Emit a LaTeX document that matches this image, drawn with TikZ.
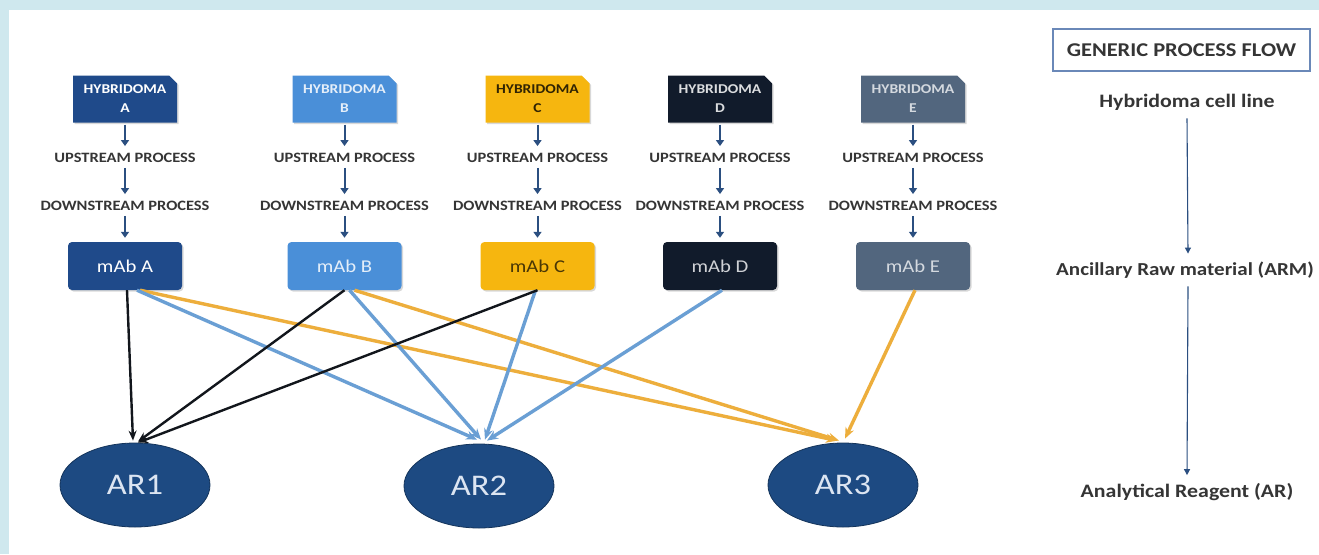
\documentclass[tikz,border=0pt]{standalone}
\usepackage{fontspec}
\setmainfont{Carlito}[FakeStretch=1.15]
\usetikzlibrary{arrows.meta,shapes.geometric,shapes.misc,shadows}
\definecolor{frameblue}{HTML}{CFE8EE}
\definecolor{colA}{HTML}{1F4A8A}
\definecolor{colB}{HTML}{4A8FD8}
\definecolor{colC}{HTML}{F6B60F}
\definecolor{colD}{HTML}{111B2B}
\definecolor{colE}{HTML}{52667E}
\definecolor{arblue}{HTML}{1D4A82}
\definecolor{lnblack}{HTML}{12161C}
\definecolor{lnblue}{HTML}{6A9FD4}
\definecolor{lngold}{HTML}{EDAE3C}
\definecolor{txtgray}{HTML}{353535}
\definecolor{smallarr}{HTML}{2B4F80}
\definecolor{boxline}{HTML}{6A88B8}
\definecolor{artext}{HTML}{DCE5F2}
\begin{document}
\begin{tikzpicture}[x=1pt,y=-1pt,
  hyb/.style={chamfered rectangle, chamfered rectangle corners=north east,
    chamfered rectangle xsep=4pt, chamfered rectangle ysep=4pt,
    minimum width=104pt, minimum height=47pt, inner sep=0pt, draw=none,
    align=center, font=\fontsize{13.5}{19}\selectfont\bfseries,
    drop shadow={shadow xshift=1.5pt, shadow yshift=-1.5pt, opacity=0.3}},
  mab/.style={rectangle, rounded corners=4pt, minimum width=114pt, minimum height=48pt,
    inner sep=0pt, draw=none, font=\fontsize{18}{20}\selectfont,
    drop shadow={shadow xshift=1.5pt, shadow yshift=-1.5pt, opacity=0.3}},
  proc/.style={text=txtgray, font=\fontsize{14.3}{15}\selectfont\bfseries, inner sep=3pt},
  arell/.style={ellipse, fill=arblue, draw=arblue!70!black, line width=0.8pt,
    minimum width=150pt, minimum height=84pt, inner sep=0pt, text=artext,
    font=\fontsize{30}{32}\selectfont},
  sarr/.style={draw=smallarr, line width=2pt, -{Triangle[length=6pt,width=8pt]},
    shorten <=2pt, shorten >=4pt},
  blk/.style={draw=lnblack, line width=2.4pt, -{Stealth[length=10pt,width=8pt]}},
  blu/.style={draw=lnblue, line width=3.4pt, -{Stealth[length=11pt,width=9pt]}},
  gld/.style={draw=lngold, line width=3.4pt, -{Stealth[length=11pt,width=9pt]}},
  rtxt/.style={text=txtgray, font=\fontsize{19}{21}\selectfont\bfseries, inner sep=8pt},
  rarr/.style={draw=smallarr, line width=1.1pt, -{Triangle[length=6pt,width=6pt]}}
]
\useasboundingbox (0,0) rectangle (1319,554);
\fill[frameblue] (0,0) rectangle (1319,554);
\fill[white] (9,10) rectangle (1319,554);

% column A
\node[hyb, fill=colA, text=white] (hA) at (125,99) {HYBRIDOMA\\A};
\node[proc] (uA) at (125,158) {UPSTREAM PROCESS};
\node[proc] (dA) at (125,206) {DOWNSTREAM PROCESS};
\node[mab, fill=colA, text=white] (mA) at (125,266) {mAb A};
% column B
\node[hyb, fill=colB, text=white!85!colB] (hB) at (344.5,99) {HYBRIDOMA\\B};
\node[proc] (uB) at (344.5,158) {UPSTREAM PROCESS};
\node[proc] (dB) at (344.5,206) {DOWNSTREAM PROCESS};
\node[mab, fill=colB, text=white!85!colB] (mB) at (344.5,266) {mAb B};
% column C
\node[hyb, fill=colC, text=black!80!colC] (hC) at (537.5,99) {HYBRIDOMA\\C};
\node[proc] (uC) at (537.5,158) {UPSTREAM PROCESS};
\node[proc] (dC) at (537.5,206) {DOWNSTREAM PROCESS};
\node[mab, fill=colC, text=black!70!colC] (mC) at (537.5,266) {mAb C};
% column D
\node[hyb, fill=colD, text=white!85!colD] (hD) at (720,99) {HYBRIDOMA\\D};
\node[proc] (uD) at (720,158) {UPSTREAM PROCESS};
\node[proc] (dD) at (720,206) {DOWNSTREAM PROCESS};
\node[mab, fill=colD, text=white!80!colD] (mD) at (720,266) {mAb D};
% column E
\node[hyb, fill=colE, text=white!75!colE] (hE) at (913,99) {HYBRIDOMA\\E};
\node[proc] (uE) at (913,158) {UPSTREAM PROCESS};
\node[proc] (dE) at (913,206) {DOWNSTREAM PROCESS};
\node[mab, fill=colE, text=white!75!colE] (mE) at (913,266) {mAb E};

\foreach \c in {A,B,C,D,E}{
  \draw[sarr] (h\c.south) -- (u\c.north);
  \draw[sarr] (u\c.south) -- (d\c.north);
  \draw[sarr] (d\c.south) -- (m\c.north);
}

% analytical reagents
\node[arell] (AR1) at (135,485) {AR1};
\node[arell] (AR2) at (479,486) {AR2};
\node[arell] (AR3) at (843,485) {AR3};

% connectors
\draw[gld] ([xshift=15pt]mA.south) -- ([xshift=-6pt,yshift=2pt]AR3.north);
\draw[gld] ([xshift=10pt]mB.south) -- ([xshift=-4pt,yshift=2pt]AR3.north);
\draw[gld] ([xshift=2pt]mE.south) -- ([xshift=2pt,yshift=4pt]AR3.north);
\draw[blu] ([xshift=12pt]mA.south) -- ([xshift=-2pt,yshift=4pt]AR2.north);
\draw[blu] ([xshift=5pt]mB.south) -- ([xshift=2pt,yshift=4pt]AR2.north);
\draw[blu] ([xshift=-2pt]mC.south) -- ([xshift=6pt,yshift=4pt]AR2.north);
\draw[blu] ([xshift=2pt]mD.south) -- ([xshift=8pt,yshift=3pt]AR2.north);
\draw[blk] ([xshift=2pt]mA.south) -- ([xshift=-2pt,yshift=2pt]AR1.north);
\draw[blk] (mB.south) -- ([xshift=3pt,yshift=1pt]AR1.north);
\draw[blk] (mC.south) -- ([xshift=3pt]AR1.north);

% generic process flow
\node[draw=boxline, line width=1.5pt, minimum width=257pt, minimum height=42pt,
  text=txtgray, font=\fontsize{19.5}{21}\selectfont\bfseries] (gpf) at (1181.5,50) {GENERIC PROCESS FLOW};
\node[rtxt] (hcl) at (1187,102) {Hybridoma cell line};
\node[rtxt, font=\fontsize{18.3}{21}\selectfont\bfseries] (arm) at (1185,270) {Ancillary Raw material (ARM)};
\node[rtxt] (ar) at (1187,492) {Analytical Reagent (AR)};
\draw[rarr] (hcl.south) -- ([xshift=3pt]arm.north);
\draw[rarr] ([xshift=3pt]arm.south) -- (ar.north);
\end{tikzpicture}
\end{document}
